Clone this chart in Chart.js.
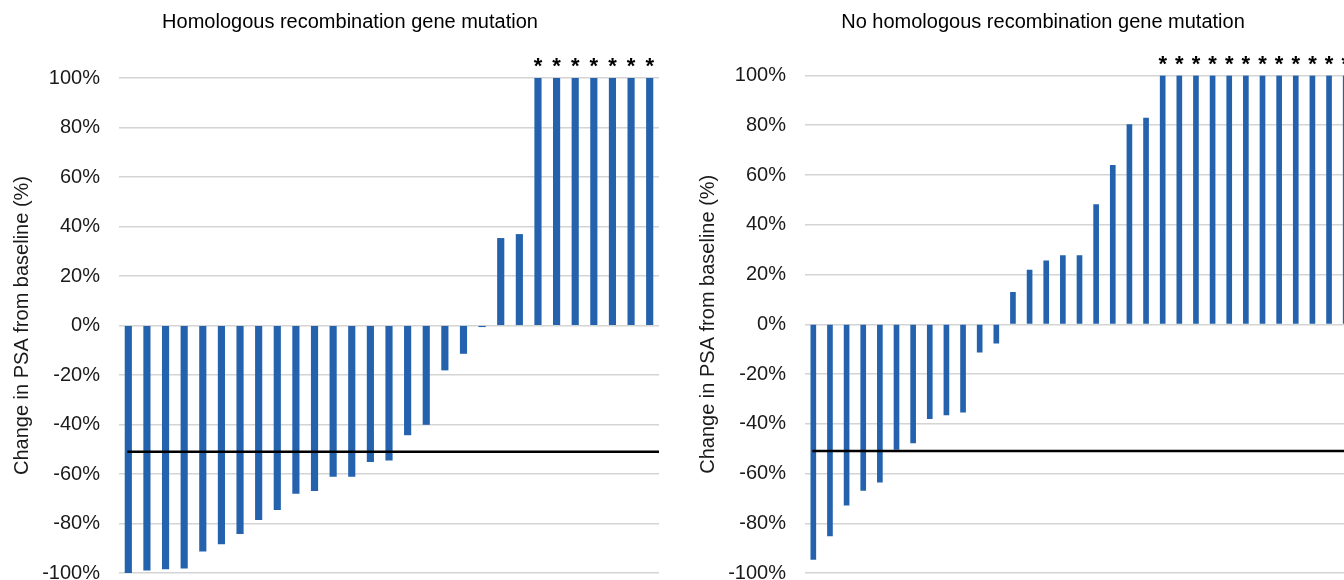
<!DOCTYPE html>
<html>
<head>
<meta charset="utf-8">
<script src="https://cdn.jsdelivr.net/npm/chart.js@4.4.1/dist/chart.umd.min.js"></script>
<style>
    html, body { margin: 0; padding: 0; background: #fff; overflow: hidden; }
    body { width: 1344px; height: 580px; position: relative; }
    .box { position: absolute; top: 0; height: 604px; }
</style>
</head>
<body>
<div class="box" style="left:0;width:700px"><canvas id="hrr"></canvas></div>
<div class="box" style="left:686px;width:714px"><canvas id="nohrr"></canvas></div>
<script>
// left panel: patients with HR gene mutation, sorted waterfall
const hrrChange = [-100, -98.9, -98.4, -98, -91.2, -88.3, -84.1, -78.5, -74.4, -67.8,
    -66.7, -61, -61, -55, -54.4, -44.2, -40, -18, -11.3, -0.5,
    35.2, 36.8, 100, 100, 100, 100, 100, 100, 100];
const hrrStar = [0, 0, 0, 0, 0, 0, 0, 0, 0, 0, 0, 0, 0, 0, 0, 0, 0, 0, 0, 0, 0, 0,
    1, 1, 1, 1, 1, 1, 1];

// right panel: no HR gene mutation
const noChange = [-94.5, -85.1, -72.7, -66.8, -63.5, -50.3, -47.7, -38, -36.5, -35.3,
    -11.2, -7.6, 12.8, 21.8, 25.5, 27.6, 27.6, 48.1, 63.9, 80.3, 82.9,
    100, 100, 100, 100, 100, 100, 100, 100, 100, 100, 100, 100];
const noStar = [0, 0, 0, 0, 0, 0, 0, 0, 0, 0, 0, 0, 0, 0, 0, 0, 0, 0, 0, 0, 0,
    1, 1, 1, 1, 1, 1, 1, 1, 1, 1, 1, 1];

const yTicks = [-100, -80, -60, -40, -20, 0, 20, 40, 60, 80, 100];
const refLevel = -51; // 50% PSA decline line

const barColor = '#2462ad';
const fontFamily = '"Liberation Sans", Arial, sans-serif';

// draws the 50% line and the asterisks over capped bars
const marksPlugin = {
    id: 'marks',
    afterDatasetsDraw(chart, args, opts) {
        const { ctx, chartArea } = chart;
        const y = chart.scales.y;
        const meta = chart.getDatasetMeta(0);
        ctx.save();
        const yRef = y.getPixelForValue(opts.ref);
        ctx.beginPath();
        ctx.moveTo(meta.data[0].x - 1, yRef);
        ctx.lineTo(chartArea.right, yRef);
        ctx.lineWidth = 2.5;
        ctx.strokeStyle = '#000';
        ctx.stroke();

        ctx.font = 'bold 22px ' + fontFamily;
        ctx.fillStyle = '#000';
        ctx.textAlign = 'center';
        ctx.textBaseline = 'alphabetic';
        opts.stars.forEach((s, i) => {
            if (s) {
                const bar = meta.data[i];
                ctx.fillText('*', bar.x, bar.y - 5);
            }
        });
        ctx.restore();
    }
};

const makeChart = (id, title, values, stars, thickness, pad) => {
    const labels = values.map((v, i) => String(i + 1));
    return new Chart(document.getElementById(id).getContext('2d'), {
        type: 'bar',
        data: {
            labels: labels,
            datasets: [{
                data: values,
                backgroundColor: barColor,
                borderWidth: 0,
                barThickness: thickness,
            }]
        },
        options: {
            responsive: true,
            maintainAspectRatio: false,
            animation: false,
            layout: {
                padding: { left: 0, right: 0, top: 0, bottom: pad.bottom }
            },
            plugins: {
                legend: { display: false },
                tooltip: { enabled: false },
                title: {
                    display: true,
                    text: title,
                    color: '#000',
                    font: { family: fontFamily, size: 20, weight: 'normal' },
                    padding: { top: 10, bottom: pad.titleGap }
                },
                marks: { ref: refLevel, stars: stars }
            },
            scales: {
                x: {
                    display: false,
                },
                y: {
                    min: -100,
                    max: 100,
                    afterBuildTicks: (s) => { s.ticks = yTicks.map(v => ({ value: v })); },
                    afterFit: (s) => { s.width = 119; },
                    border: { display: false },
                    grid: {
                        color: '#d4d4d4',
                        lineWidth: 1.5,
                        drawTicks: false,
                    },
                    ticks: {
                        padding: 19,
                        color: '#1a1a1a',
                        font: { family: fontFamily, size: 20 },
                        callback: (v) => v + '%'
                    },
                    title: {
                        display: true,
                        text: 'Change in PSA from baseline (%)',
                        color: '#1a1a1a',
                        font: { family: fontFamily, size: 20 },
                        padding: { top: 10, bottom: 0 }
                    }
                },
                // empty right-hand spacer so the title stays centred on the whole panel
                pad: {
                    position: 'right',
                    afterFit: (s) => { s.width = pad.right; },
                    border: { display: false },
                    grid: { display: false },
                    ticks: { display: false }
                }
            }
        },
        plugins: [marksPlugin]
    });
};

const chartHrr = makeChart('hrr', 'Homologous recombination gene mutation',
    hrrChange, hrrStar, 6.5, { right: 41, bottom: 8, titleGap: 44 });
const chartNo = makeChart('nohrr', 'No homologous recombination gene mutation',
    noChange, noStar, 5, { right: 46, bottom: 10, titleGap: 41.5 });
</script>
</body>
</html>
